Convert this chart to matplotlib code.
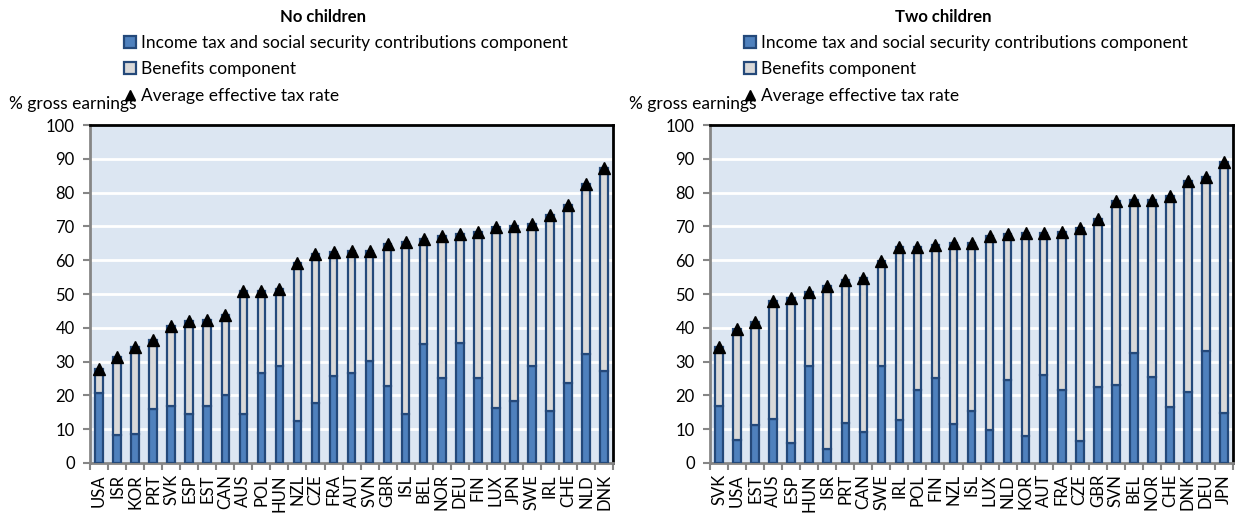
import numpy as np
import matplotlib.pyplot as plt
from matplotlib.patches import Patch
from matplotlib.lines import Line2D

plt.rcParams['font.family'] = ['Lato', 'DejaVu Sans']

# No children
countries_nc = ["USA", "ISR", "KOR", "PRT", "SVK", "ESP", "EST", "CAN", "AUS", "POL",
                "HUN", "NZL", "CZE", "FRA", "AUT", "SVN", "GBR", "ISL", "BEL", "NOR",
                "DEU", "FIN", "LUX", "JPN", "SWE", "IRL", "CHE", "NLD", "DNK"]
tax_nc = [20.8, 8.3, 8.6, 16.0, 17.0, 14.6, 16.8, 20.0, 14.6, 26.6,
          28.6, 12.3, 17.8, 25.6, 26.7, 30.2, 22.7, 14.6, 35.3, 25.2,
          35.5, 25.0, 16.3, 18.2, 28.6, 15.3, 23.7, 32.2, 27.1]
aetr_nc = [27.9, 31.4, 34.2, 36.3, 40.5, 42.1, 42.3, 43.9, 50.8, 50.8,
           51.4, 59.3, 61.9, 62.5, 62.6, 62.8, 64.9, 65.3, 66.3, 67.2,
           67.7, 68.4, 69.7, 70.2, 70.8, 73.4, 76.2, 82.6, 87.3]

# Two children
countries_tc = ["SVK", "USA", "EST", "AUS", "ESP", "HUN", "ISR", "PRT", "CAN", "SWE",
                "IRL", "POL", "FIN", "NZL", "ISL", "LUX", "NLD", "KOR", "AUT", "FRA",
                "CZE", "GBR", "SVN", "BEL", "NOR", "CHE", "DNK", "DEU", "JPN"]
tax_tc = [17.0, 6.9, 11.1, 12.9, 6.0, 28.6, 4.0, 11.9, 9.3, 28.6,
          12.6, 21.5, 25.0, 11.4, 15.5, 9.8, 24.7, 8.1, 26.0, 21.5,
          6.4, 22.5, 23.0, 32.6, 25.3, 16.7, 21.0, 33.2, 14.9]
aetr_tc = [34.2, 39.7, 41.6, 47.9, 48.7, 50.7, 52.4, 54.0, 54.8, 59.9,
           63.8, 63.8, 64.6, 65.0, 65.0, 67.2, 67.7, 68.0, 68.0, 68.2,
           69.5, 72.2, 77.6, 77.8, 77.8, 79.1, 83.3, 84.6, 89.0]

BLUE = '#4F81BD'
GREY = '#D9D9D9'
EDGE = '#24497A'
BG = '#DCE6F2'
AXIS = '#868686'
FS = 12
FS_LEG = 12.5

fig = plt.figure(figsize=(12.37, 5.13), dpi=100)


def draw_panel(left, countries, tax, aetr, title):
    ax = fig.add_axes([left, 0.0975, 0.4228, 0.6588])
    x = np.arange(len(countries))
    tax = np.array(tax)
    aetr = np.array(aetr)
    ax.set_facecolor(BG)
    ax.bar(x, tax, width=0.42, color=BLUE, edgecolor=EDGE, linewidth=1.6, zorder=3)
    ax.bar(x, aetr - tax, bottom=tax, width=0.42, color=GREY, edgecolor=EDGE,
           linewidth=1.6, zorder=3)
    ax.plot(x, aetr, linestyle='none', marker='^', markersize=8, color='black', zorder=4)

    ax.set_xlim(-0.5, len(countries) - 0.5)
    ax.set_ylim(0, 100)
    ax.set_yticks(np.arange(0, 101, 10))
    for y in range(10, 100, 10):
        ax.axhline(y, color='white', linewidth=2, zorder=1)

    ax.set_xticks(x)
    ax.set_xticklabels(countries, rotation=90, fontsize=FS)
    ax.set_xticks(np.arange(-0.5, len(countries)), minor=True)
    ax.tick_params(axis='x', which='major', length=0, pad=8)
    ax.tick_params(axis='x', which='minor', length=5, width=1.5, color=AXIS)
    ax.tick_params(axis='y', length=5, width=1.5, color=AXIS, labelsize=FS, pad=6)

    for side in ('left', 'bottom'):
        ax.spines[side].set_color(AXIS)
        ax.spines[side].set_linewidth(2)
    for side in ('top', 'right'):
        ax.spines[side].set_color('black')
        ax.spines[side].set_linewidth(2)

    # header text and legend above the plot area
    fig.text(left + 0.1885, 1 - 17 / 513, title, ha='center', va='center',
             fontsize=FS, fontweight='bold')
    handles = [
        Patch(facecolor=BLUE, edgecolor=EDGE, linewidth=1.6),
        Patch(facecolor=GREY, edgecolor=EDGE, linewidth=1.6),
        Line2D([], [], linestyle='none', marker='^', markersize=7, color='black'),
    ]
    labels = ["Income tax and social security contributions component",
              "Benefits component",
              "Average effective tax rate"]
    fig.legend(handles, labels, loc='upper left',
               bbox_to_anchor=(left + 0.0275, 1 - 35 / 513),
               frameon=False, fontsize=FS_LEG, handlelength=0.7, handleheight=0.7,
               handletextpad=0.3, labelspacing=0.6, borderpad=0, borderaxespad=0)
    fig.text(left - 0.0655, 1 - 104 / 513, "% gross earnings", ha='left', va='center',
             fontsize=FS_LEG)
    return ax


draw_panel(0.0728, countries_nc, tax_nc, aetr_nc, "No children")
draw_panel(0.5740, countries_tc, tax_tc, aetr_tc, "Two children")

fig.savefig('out.png', dpi=100)
